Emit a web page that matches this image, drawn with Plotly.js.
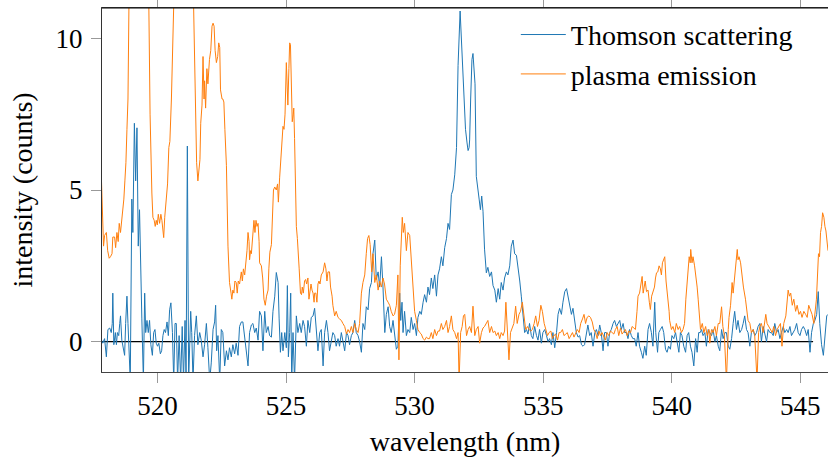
<!DOCTYPE html>
<html>
<head>
<meta charset="utf-8">
<script src="https://cdn.plot.ly/plotly-3.0.1.min.js"></script>
<style>html,body{margin:0;padding:0;background:#fff;}#chart{width:828px;height:457px;}</style>
</head>
<body>
<div id="chart"></div>
<script>
// Thomson scattering (blue) — wavelength (nm) and intensity (counts)
const thomsonX = [517.82,517.87,517.94,518.01,518.07,518.14,518.20,518.24,518.26,518.30,518.36,518.40,518.44,518.49,518.53,518.56,518.61,518.65,518.72,518.76,518.81,518.85,518.89,518.94,519.00,519.04,519.10,519.15,519.20,519.25,519.30,519.34,519.39,519.45,519.50,519.54,519.59,519.64,519.69,519.74,519.80,519.85,519.90,519.95,520.00,520.05,520.11,520.16,520.21,520.26,520.31,520.37,520.42,520.47,520.52,520.58,520.63,520.68,520.73,520.78,520.84,520.90,520.96,521.01,521.07,521.11,521.16,521.21,521.29,521.33,521.38,521.44,521.51,521.57,521.64,521.70,521.77,521.83,521.90,521.96,522.03,522.09,522.16,522.22,522.26,522.30,522.35,522.42,522.48,522.54,522.61,522.68,522.74,522.80,522.87,522.93,523.00,523.06,523.13,523.19,523.26,523.32,523.39,523.45,523.52,523.58,523.65,523.71,523.78,523.84,523.91,523.97,524.04,524.10,524.17,524.23,524.30,524.36,524.43,524.49,524.56,524.62,524.69,524.73,524.78,524.83,524.88,524.95,525.01,525.05,525.09,525.14,525.18,525.22,525.27,525.33,525.40,525.46,525.53,525.59,525.66,525.72,525.79,525.85,525.92,525.98,526.05,526.11,526.18,526.24,526.31,526.37,526.44,526.50,526.57,526.63,526.69,526.76,526.82,526.89,526.95,527.02,527.08,527.15,527.21,527.28,527.35,527.41,527.47,527.54,527.60,527.67,527.73,527.80,527.86,527.93,527.99,528.06,528.12,528.19,528.25,528.32,528.38,528.45,528.51,528.58,528.64,528.71,528.77,528.84,528.90,528.97,529.03,529.09,529.16,529.22,529.29,529.35,529.42,529.46,529.51,529.55,529.61,529.68,529.74,529.81,529.87,529.94,530.00,530.07,530.13,530.20,530.26,530.33,530.39,530.46,530.52,530.58,530.65,530.71,530.78,530.85,530.91,530.97,531.04,531.10,531.17,531.24,531.30,531.36,531.43,531.49,531.56,531.63,531.69,531.77,531.84,531.91,531.98,532.04,532.08,532.12,532.14,532.18,532.23,532.27,532.31,532.35,532.40,532.44,532.51,532.56,532.61,532.66,532.72,532.79,532.85,532.92,532.99,533.05,533.12,533.18,533.25,533.31,533.37,533.44,533.50,533.57,533.63,533.70,533.76,533.83,533.89,533.96,534.02,534.09,534.15,534.22,534.28,534.35,534.41,534.47,534.54,534.60,534.67,534.74,534.80,534.86,534.93,534.99,535.06,535.13,535.19,535.25,535.32,535.38,535.45,535.52,535.58,535.64,535.71,535.77,535.84,535.91,535.97,536.03,536.10,536.16,536.23,536.29,536.36,536.42,536.49,536.55,536.61,536.68,536.74,536.81,536.87,536.94,537.01,537.07,537.14,537.20,537.26,537.33,537.39,537.46,537.52,537.59,537.65,537.72,537.78,537.85,537.91,537.98,538.04,538.11,538.17,538.24,538.30,538.36,538.43,538.49,538.56,538.62,538.69,538.75,538.82,538.88,538.95,539.01,539.08,539.14,539.21,539.27,539.34,539.38,539.45,539.50,539.56,539.63,539.69,539.76,539.82,539.88,539.95,540.01,540.08,540.15,540.21,540.28,540.34,540.40,540.47,540.54,540.60,540.66,540.73,540.79,540.86,540.93,540.99,541.05,541.11,541.16,541.22,541.29,541.35,541.42,541.48,541.55,541.61,541.68,541.74,541.81,541.87,541.94,542.00,542.07,542.13,542.20,542.26,542.33,542.39,542.45,542.52,542.58,542.65,542.72,542.78,542.84,542.91,542.97,543.04,543.10,543.17,543.23,543.30,543.36,543.43,543.49,543.56,543.62,543.69,543.75,543.82,543.88,543.95,544.01,544.08,544.14,544.21,544.27,544.34,544.40,544.47,544.53,544.60,544.66,544.73,544.79,544.86,544.92,544.99,545.05,545.12,545.18,545.25,545.31,545.38,545.44,545.51,545.57,545.64,545.70,545.76,545.83,545.90,545.96,546.03,546.08];
const thomsonY = [0.05,-0.05,0.1,-0.5,0.4,0.45,0.3,0.6,1.6,-0.1,0.3,-0.1,0.3,0.2,0.6,0.85,0.05,-0.15,-0.45,0.6,1.5,0.6,-0.05,-1.3,4.7,3.6,7.2,5.3,7.05,3.15,4.35,2.0,0.75,-1.3,1.6,0.3,0.7,0.3,0.7,-0.1,-0.45,0.3,0.4,-0.05,-0.15,-0.05,-0.4,-0.3,0.2,0.4,0.3,0.65,0.2,1.05,1.28,0.3,-1.3,0.6,0.6,-1.3,0.2,-1.3,0.5,-1.3,0.7,-1.3,6.45,-1.3,1.0,0.3,-1.3,0.2,0.85,-0.1,0.3,0.05,-0.5,-0.1,0.6,-0.2,-1.3,-0.7,0.4,0.65,1.2,-0.3,0.2,-1.3,0.4,0.3,-0.8,-0.3,-0.6,-0.2,-0.5,-0.1,-0.4,-0.05,-0.45,0.5,0.65,0.65,0.1,-0.3,-0.8,0.3,0.55,0.6,0.3,0.45,0.05,1.0,0.85,-0.3,1.0,0.3,0.5,0.2,0.15,1.0,1.5,2.28,1.95,0.75,-0.35,0.3,-0.3,0.3,-0.2,1.85,-0.5,0.3,1.6,-1.3,0.3,-1.3,0.85,0.3,0.6,0.3,0.7,0.5,-0.15,0.7,0.3,0.8,0.85,1.1,0.2,-0.3,0.3,0.4,-0.8,0.3,0.7,0.3,-0.3,0.1,0.3,0.2,-0.15,0.1,-0.15,0.3,0.0,-0.3,0.3,0.2,-0.1,0.2,0.3,0.7,0.3,0.2,0.0,-0.35,0.6,0.4,1.15,1.05,1.75,1.95,2.9,3.35,2.05,2.3,1.8,2.8,1.8,0.3,0.9,1.15,0.5,0.3,0.7,0.2,-0.25,-0.15,1.6,0.7,1.3,0.3,1.0,0.2,0.4,0.3,0.8,0.4,0.6,0.2,0.8,1.0,0.9,1.3,1.55,1.3,1.8,1.55,2.1,1.75,2.2,1.5,2.2,2.4,2.8,2.5,3.1,3.4,3.9,3.7,4.85,5.0,5.5,6.4,9.1,10.9,9.4,8.2,7.0,6.55,6.3,6.4,6.65,8.0,9.3,9.5,8.8,8.5,5.45,5.1,4.7,4.35,4.8,4.3,3.05,2.27,2.45,2.15,2.3,1.85,1.7,1.3,1.75,1.4,1.95,1.7,2.1,2.3,2.2,2.5,3.15,3.35,2.9,2.85,2.5,2.0,1.5,0.9,0.3,0.4,0.25,0.6,0.2,0.1,0.5,0.2,0.05,0.4,-0.05,0.3,0.4,0.2,0.0,0.1,-0.1,0.3,-0.2,0.3,0.9,1.1,0.9,1.3,1.65,1.75,1.5,1.3,0.9,1.1,0.6,0.3,0.15,0.2,-0.1,-0.15,-0.1,0.3,0.55,0.2,0.3,-0.15,0.3,0.4,0.2,0.55,0.3,-0.3,0.3,0.3,-0.15,0.3,0.4,0.6,0.7,0.5,0.6,0.7,0.4,0.6,0.3,0.3,0.1,0.4,0.2,0.1,0.1,-0.15,0.3,-0.15,-0.35,-0.55,-0.15,-0.45,0.4,0.6,0.3,-0.15,1.3,0.3,-0.35,0.3,0.4,0.5,0.3,-0.25,-0.35,-0.15,-0.25,0.2,0.1,0.3,0.0,-0.35,0.3,0.2,-0.15,-0.35,0.2,0.3,-0.15,-0.35,-0.8,0.1,-0.35,0.3,0.3,0.4,0.2,0.3,-0.15,0.4,0.3,0.2,0.4,0.0,0.2,-0.15,-0.3,0.4,0.1,0.3,0.3,-0.15,-0.25,0.1,0.6,1.0,0.4,0.7,0.3,0.4,0.6,0.85,0.4,0.3,-0.15,0.3,0.4,0.2,0.3,0.5,0.6,0.0,0.5,0.3,0.0,0.4,0.3,0.3,0.2,0.6,0.3,0.4,0.1,0.3,0.5,0.3,0.4,0.3,0.5,0.2,0.3,0.4,0.6,0.3,0.2,0.4,0.5,0.4,0.2,0.4,-0.35,0.3,0.6,0.7,0.9,1.65,0.6,-0.1,-0.45,0.3,0.85,0.9];

// plasma emission (orange)
const plasmaX = [517.82,517.86,517.90,517.94,518.01,518.06,518.12,518.17,518.23,518.26,518.33,518.37,518.42,518.47,518.51,518.56,518.61,518.65,518.69,518.73,518.77,518.81,518.85,518.89,518.93,519.11,519.30,519.50,519.61,519.66,519.71,519.76,519.78,519.82,519.87,519.91,519.95,519.99,520.03,520.08,520.13,520.17,520.21,520.24,520.28,520.34,520.39,520.44,520.48,520.54,520.60,520.67,520.86,521.09,521.29,521.38,521.40,521.46,521.52,521.57,521.61,521.65,521.68,521.73,521.77,521.81,521.83,521.87,521.92,521.96,522.02,522.07,522.12,522.16,522.20,522.24,522.29,522.34,522.38,522.42,522.45,522.51,522.54,522.58,522.62,522.68,522.74,522.80,522.86,522.89,522.93,522.97,523.01,523.06,523.10,523.14,523.19,523.26,523.30,523.34,523.39,523.44,523.48,523.52,523.56,523.58,523.62,523.65,523.71,523.75,523.79,523.83,523.87,523.91,523.95,523.97,524.04,524.09,524.14,524.19,524.24,524.30,524.33,524.37,524.43,524.47,524.51,524.56,524.62,524.67,524.70,524.75,524.78,524.83,524.88,524.92,524.96,525.01,525.05,525.07,525.11,525.14,525.17,525.20,525.24,525.28,525.30,525.33,525.36,525.40,525.44,525.46,525.51,525.56,525.60,525.63,525.67,525.72,525.76,525.80,525.85,525.89,525.93,525.97,526.01,526.05,526.09,526.11,526.16,526.20,526.24,526.28,526.32,526.37,526.44,526.50,526.55,526.59,526.63,526.69,526.73,526.79,526.82,526.89,526.95,527.02,527.08,527.15,527.21,527.28,527.35,527.41,527.47,527.54,527.60,527.67,527.73,527.80,527.86,527.93,527.99,528.06,528.12,528.17,528.22,528.27,528.33,528.38,528.45,528.51,528.58,528.64,528.71,528.77,528.83,528.90,528.97,529.03,529.09,529.16,529.22,529.29,529.35,529.39,529.44,529.48,529.52,529.56,529.61,529.68,529.74,529.81,529.87,529.94,530.00,530.07,530.13,530.20,530.26,530.33,530.39,530.46,530.52,530.58,530.65,530.71,530.78,530.85,530.91,530.97,531.04,531.10,531.17,531.24,531.30,531.36,531.43,531.49,531.56,531.63,531.69,531.73,531.79,531.85,531.90,531.95,532.02,532.08,532.14,532.21,532.27,532.34,532.40,532.47,532.53,532.60,532.66,532.72,532.79,532.85,532.92,532.99,533.05,533.12,533.18,533.25,533.31,533.37,533.44,533.50,533.55,533.60,533.67,533.73,533.80,533.86,533.93,533.99,534.06,534.12,534.19,534.25,534.32,534.39,534.45,534.52,534.58,534.65,534.71,534.78,534.84,534.91,534.97,535.04,535.10,535.17,535.23,535.30,535.36,535.42,535.49,535.56,535.62,535.68,535.75,535.81,535.88,535.94,536.01,536.07,536.14,536.20,536.27,536.33,536.40,536.46,536.53,536.59,536.65,536.71,536.78,536.84,536.91,536.97,537.04,537.10,537.17,537.23,537.29,537.36,537.42,537.49,537.55,537.62,537.68,537.75,537.81,537.88,537.94,538.01,538.07,538.14,538.20,538.27,538.33,538.40,538.46,538.53,538.59,538.65,538.69,538.75,538.79,538.83,538.85,538.89,538.93,538.97,539.02,539.08,539.13,539.17,539.22,539.28,539.33,539.37,539.41,539.46,539.51,539.56,539.60,539.64,539.69,539.73,539.78,539.82,539.86,539.90,539.92,539.99,540.05,540.12,540.18,540.25,540.31,540.38,540.44,540.50,540.55,540.60,540.64,540.68,540.72,540.74,540.79,540.83,540.89,540.94,540.99,541.03,541.07,541.12,541.19,541.25,541.32,541.38,541.45,541.48,541.55,541.61,541.68,541.74,541.81,541.87,541.94,541.99,542.05,542.13,542.20,542.23,542.29,542.35,542.39,542.44,542.49,542.55,542.58,542.62,542.68,542.74,542.79,542.87,542.92,542.97,543.04,543.10,543.17,543.23,543.32,543.38,543.43,543.49,543.56,543.62,543.66,543.71,543.78,543.84,543.91,543.97,544.04,544.10,544.17,544.23,544.29,544.36,544.44,544.53,544.58,544.63,544.69,544.75,544.82,544.88,544.95,545.01,545.07,545.14,545.21,545.27,545.33,545.40,545.46,545.53,545.59,545.63,545.71,545.75,545.79,545.83,545.87,545.92,545.96,546.00,546.08];
const plasmaY = [5.3,4.0,3.15,3.5,3.6,3.0,2.75,2.8,2.9,3.45,3.45,3.1,3.6,3.3,3.9,3.6,4.0,4.4,4.7,5.3,5.9,7.0,8.0,11.2,13,18,17,14,12,11.2,7.5,5.15,4.9,4.1,4.0,3.8,4.0,3.85,4.2,3.9,4.2,4.0,3.6,3.43,4.1,4.6,5.2,6.4,6.6,8.0,11.2,14,19,20,15,12,11.2,8.0,5.9,5.3,5.6,6.0,7.2,7.8,9.4,8.0,8.6,7.7,9.0,8.5,9.3,9.6,10.4,10.5,10.4,9.6,9.2,9.4,9.85,9.7,8.3,8.0,8.0,7.9,7.0,5.8,3.15,1.95,1.6,1.4,1.7,1.6,2.0,1.95,1.6,2.0,1.9,2.3,2.0,2.4,2.2,2.6,3.0,3.6,3.3,2.7,3.0,2.9,3.8,4.0,3.6,4.0,3.8,3.9,3.3,2.6,2.5,2.1,1.4,1.2,1.5,1.7,2.4,2.95,3.2,4.0,5.0,5.1,5.0,5.2,4.6,5.4,5.9,6.4,7.1,7.0,7.5,9.2,8.5,7.8,9.0,9.85,9.8,8.9,7.25,7.5,7.7,6.7,5.3,3.8,3.4,3.0,2.4,1.6,1.55,1.8,1.6,2.0,2.05,1.9,2.1,1.4,1.7,1.9,1.7,1.6,1.3,1.6,1.6,1.3,1.9,2.0,1.9,2.2,2.3,2.6,2.4,2.0,2.3,2.3,1.8,1.5,1.2,0.85,1.0,0.8,0.75,0.7,0.6,0.5,0.25,0.4,0.3,0.5,0.3,0.6,0.4,0.3,0.6,1.6,1.95,2.2,2.9,3.4,3.5,3.2,2.3,2.9,1.95,2.2,1.7,2.0,1.8,2.1,1.9,1.4,1.3,1.2,1.0,0.85,0.9,1.2,2.2,-0.6,2.5,3.3,4.1,3.6,3.9,3.0,3.6,3.5,2.7,2.1,1.0,0.7,0.4,0.3,0.25,0.1,0.05,0.15,0.1,0.1,0.3,0.1,0.4,0.2,0.35,0.35,0.6,0.4,0.5,0.7,0.3,0.5,0.85,0.4,0.3,0.1,0.3,-1.3,0.3,0.5,0.85,0.9,0.2,0.4,0.5,0.3,1.17,0.2,0.4,0.5,-0.05,0.3,0.45,0.5,0.6,0.7,0.3,0.5,0.3,0.35,0.2,0.3,0.1,0.3,0.2,0.35,1.3,0.4,-0.6,0.3,0.5,0.6,1.17,0.6,0.9,1.0,1.3,0.8,0.4,0.5,0.4,0.35,0.4,0.6,0.85,0.5,0.7,1.2,1.0,0.6,0.4,0.2,0.3,0.35,0.1,0.2,0.25,0.05,0.3,0.3,0.4,0.2,0.25,0.3,0.1,0.2,0.3,0.15,0.3,0.4,0.3,0.6,0.75,0.9,0.6,0.8,0.85,0.8,0.65,0.4,0.3,0.1,0.35,0.2,0.3,0.15,0.05,0.3,0.2,0.35,0.3,0.25,0.4,0.5,0.2,0.45,0.25,0.35,0.4,0.2,0.35,0.3,0.5,0.45,0.4,1.0,1.5,1.6,1.8,1.95,2.15,1.6,1.9,2.0,1.65,1.7,1.3,1.06,1.5,1.7,1.8,2.1,2.27,2.3,2.5,2.4,2.2,2.6,2.7,2.8,2.0,1.7,1.4,1.0,0.7,0.4,0.5,0.3,0.6,0.4,0.5,0.3,0.4,0.6,1.4,2.05,2.2,2.8,2.6,3.04,2.6,2.8,2.5,2.2,1.8,1.4,0.75,0.4,0.6,0.3,0.5,0.2,0.4,-0.05,0.4,0.3,0.5,0.2,0.6,0.6,1.15,0.5,0.2,-1.3,0.4,0.8,1.2,1.95,1.6,2.1,2.5,3.04,2.7,2.8,2.6,2.15,1.8,1.4,1.0,0.7,0.6,0.3,0.4,0.2,-1.3,0.3,0.5,0.6,0.3,0.7,0.9,0.6,0.5,0.4,0.3,0.5,0.2,0.4,0.5,0.6,-0.15,0.6,0.85,1.7,1.5,1.6,1.2,1.4,1.0,1.2,0.9,1.0,0.8,1.0,0.9,0.8,1.2,1.0,0.9,0.6,1.0,1.4,2.9,2.8,3.6,3.8,4.25,4.1,3.8,3.65,3.0];

// reference line at zero intensity
const zeroX = [517.84, 545.5];
const zeroY = [0, 0];

const xTicks = [520, 525, 530, 535, 540, 545];
const yTicks = [0, 5, 10];
const xRange = [517.84, 546.08];
const yRange = [-1, 11];

const serif = 'Times New Roman, Liberation Serif, DejaVu Serif, serif';

const traces = [
  {x: zeroX, y: zeroY, mode: 'lines', line: {color: '#000', width: 1.2}, showlegend: false, hoverinfo: 'skip'},
  {x: thomsonX, y: thomsonY, mode: 'lines', name: 'Thomson scattering', line: {color: '#1f77b4', width: 1}},
  {x: plasmaX, y: plasmaY, mode: 'lines', name: 'plasma emission', line: {color: '#ff7f0e', width: 1}}
];

const layout = {
  width: 828, height: 457,
  margin: {l: 102, r: 0, t: 8, b: 85},
  paper_bgcolor: '#fff', plot_bgcolor: '#fff',
  font: {family: serif, size: 26, color: '#000'},
  showlegend: true,
  legend: {x: 0.57, y: 0.995, xanchor: 'left', yanchor: 'top', bgcolor: 'rgba(0,0,0,0)',
           font: {family: serif, size: 28, color: '#000'}, itemwidth: 45, tracegroupgap: 0},
  xaxis: {
    range: xRange, tickvals: xTicks, ticktext: xTicks.map(String),
    showgrid: false, zeroline: false,
    showline: true, linecolor: '#444', linewidth: 1, mirror: 'ticks',
    ticks: 'outside', ticklen: 10, tickcolor: '#999', tickwidth: 1,
    tickfont: {family: serif, size: 27, color: '#000'},
    title: {text: 'wavelength (nm)', font: {family: serif, size: 28, color: '#000'}, standoff: 14}
  },
  yaxis: {
    range: yRange, tickvals: yTicks, ticktext: yTicks.map(String),
    showgrid: false, zeroline: false,
    showline: true, linecolor: '#333', linewidth: 1, mirror: false,
    ticks: 'outside', ticklen: 10, tickcolor: '#999', tickwidth: 1, ticklabelstandoff: 3,
    tickfont: {family: serif, size: 27, color: '#000'},
    title: {text: 'intensity (counts)', font: {family: serif, size: 28, color: '#000'}, standoff: 14}
  },
  shapes: [
    {type: 'line', xref: 'paper', yref: 'paper', x0: 0, x1: 1, y0: 1, y1: 1, line: {color: '#000', width: 1.2}}
  ]
};

Plotly.newPlot('chart', traces, layout, {staticPlot: true, displayModeBar: false});
</script>
</body>
</html>
